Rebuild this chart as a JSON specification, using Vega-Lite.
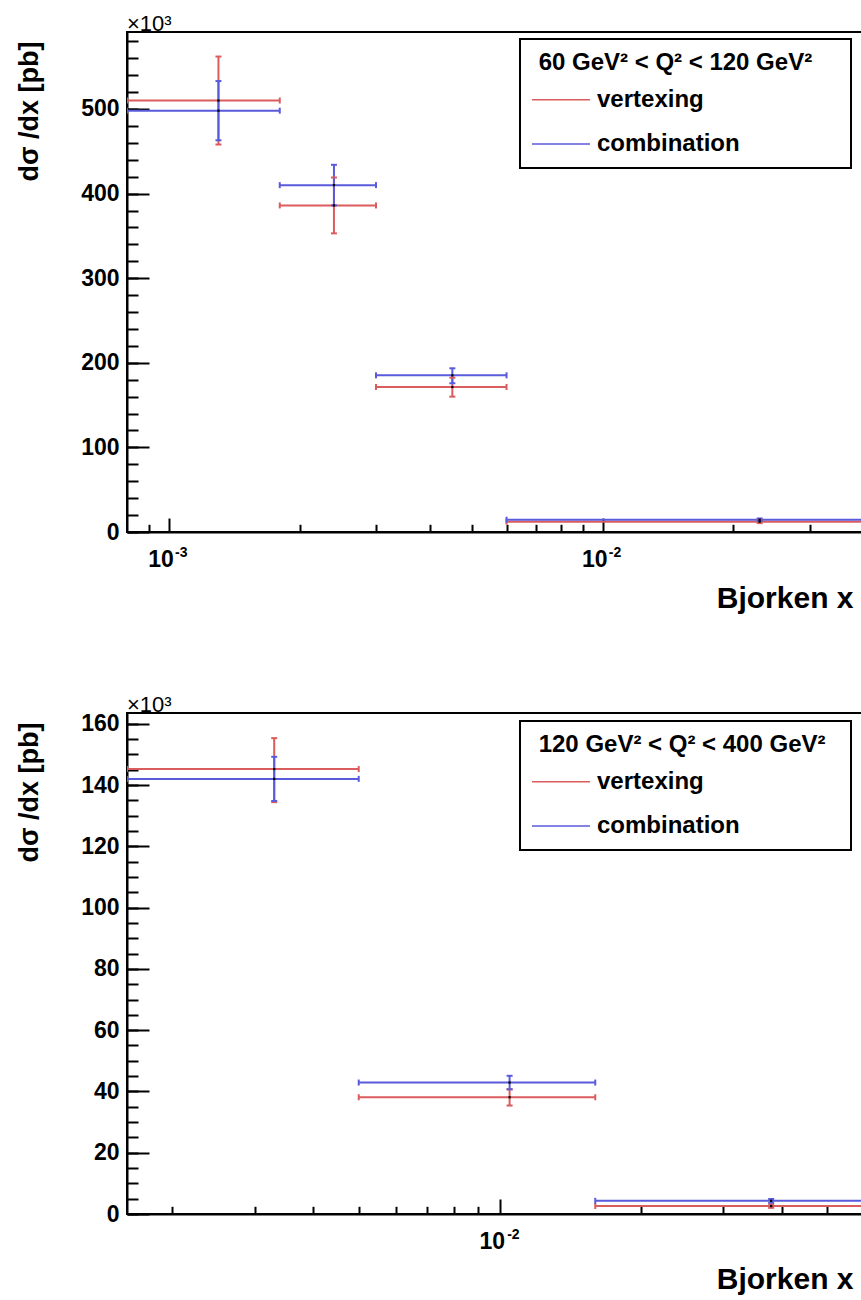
{
  "$schema": "https://vega.github.io/schema/vega-lite/v6.json",
  "background": "white",
  "padding": {"left": 14, "top": 12, "right": 0, "bottom": 0},
  "config": {
    "font": "Liberation Sans",
    "view": {"stroke": "black", "strokeWidth": 2},
    "axis": {"grid": false},
    "legend": {"strokeWidth": 2},
    "title": {"fontSize": 22, "fontWeight": "normal", "font": "Liberation Sans", "color": "black", "anchor": "start", "frame": "group", "baseline": "alphabetic", "offset": -4}
  },
  "spacing": 181,
  "bounds": "flush",
  "resolve": {"scale": {"color": "independent"}, "legend": {"color": "independent"}},
  "datasets": {
    "top": [
      {"series": "vertexing", "x": 0.0013, "xlo": 0.0008, "xhi": 0.0018, "y": 510, "ylo": 458, "yhi": 562},
      {"series": "vertexing", "x": 0.0024, "xlo": 0.0018, "xhi": 0.003, "y": 386, "ylo": 353, "yhi": 419},
      {"series": "vertexing", "x": 0.0045, "xlo": 0.003, "xhi": 0.006, "y": 171.4, "ylo": 160, "yhi": 182.4},
      {"series": "vertexing", "x": 0.023, "xlo": 0.006, "xhi": 0.1, "y": 12.2, "ylo": 10.5, "yhi": 14},
      {"series": "combination", "x": 0.0013, "xlo": 0.0008, "xhi": 0.0018, "y": 498, "ylo": 463, "yhi": 533},
      {"series": "combination", "x": 0.0024, "xlo": 0.0018, "xhi": 0.003, "y": 410, "ylo": 386, "yhi": 434},
      {"series": "combination", "x": 0.0045, "xlo": 0.003, "xhi": 0.006, "y": 185.2, "ylo": 175.8, "yhi": 193.5},
      {"series": "combination", "x": 0.023, "xlo": 0.006, "xhi": 0.1, "y": 14.5, "ylo": 13, "yhi": 16}
    ],
    "bottom": [
      {"series": "vertexing", "x": 0.0033, "xlo": 0.0016, "xhi": 0.005, "y": 145.2, "ylo": 134.4, "yhi": 155.3},
      {"series": "vertexing", "x": 0.0105, "xlo": 0.005, "xhi": 0.016, "y": 38.1, "ylo": 35.4, "yhi": 40.7},
      {"series": "vertexing", "x": 0.038, "xlo": 0.016, "xhi": 0.1, "y": 2.6, "ylo": 2.0, "yhi": 3.2},
      {"series": "combination", "x": 0.0033, "xlo": 0.0016, "xhi": 0.005, "y": 142, "ylo": 134.8, "yhi": 149.2},
      {"series": "combination", "x": 0.0105, "xlo": 0.005, "xhi": 0.016, "y": 42.9, "ylo": 40.7, "yhi": 45.1},
      {"series": "combination", "x": 0.038, "xlo": 0.016, "xhi": 0.1, "y": 4.3, "ylo": 3.7, "yhi": 4.9}
    ]
  },
  "vconcat": [
    {
      "width": 735, "height": 500,
      "data": {"name": "top"},
      "title": {"text": "×10³"},
      "encoding": {
        "color": {"field": "series", "type": "nominal",
          "scale": {"domain": ["vertexing", "combination"], "range": ["#db5c5c", "#5a5adc"]},
          "legend": {"title": "\u200b\u00a060 GeV² < Q² < 120 GeV²\u00a0\u00a0\u00a0\u00a0\u200b", "orient": "none", "legendX": 393, "legendY": 7, "direction": "vertical",
            "strokeColor": "black", "fillColor": "white", "padding": 12,
            "titleFont": "Liberation Sans", "titleFontSize": 24, "titleFontWeight": "bold", "titleColor": "black", "titlePadding": 12.7, "titleLimit": 500,
            "labelFont": "Liberation Sans", "labelFontSize": 24, "labelFontWeight": "bold", "labelColor": "black", "labelLimit": 400,
            "symbolType": "M-10,0H10", "symbolSize": 33.6, "symbolStrokeWidth": 1.5, "symbolOffset": 17, "labelOffset": 24, "rowPadding": 20.3}
        }
      },
      "resolve": {"axis": {"x": "independent", "y": "independent"}},
      "layer": [
        {
          "mark": {"type": "rule", "strokeWidth": 2, "clip": true},
          "encoding": {
            "x": {"field": "xlo", "type": "quantitative",
              "scale": {"type": "log", "domain": [0.0008, 0.0396], "nice": false},
              "axis": {"orient": "bottom", "values": [0.001, 0.01], "labelExpr": "'10'", "tickSize": -14, "tickWidth": 2, "tickColor": "black",
                "domain": true, "domainColor": "black", "domainWidth": 2,
                "labelFont": "Liberation Sans", "labelFontSize": 23, "labelFontWeight": "bold", "labelColor": "black",
                "labelAlign": "center", "labelBaseline": "alphabetic", "labelPadding": 48, "labelOffset": -8.5,
                "labelOverlap": false, "labelFlush": false, "labelBound": false,
                "title": "Bjorken x", "titleFont": "Liberation Sans", "titleFontSize": 30, "titleFontWeight": "bold", "titleColor": "black",
                "titleAlign": "right", "titleX": 726, "titleY": 75, "titleBaseline": "alphabetic", "grid": false}
            },
            "x2": {"field": "xhi"},
            "y": {"field": "y", "type": "quantitative",
              "scale": {"domain": [0, 591], "nice": false},
              "axis": {"orient": "left", "values": [0, 100, 200, 300, 400, 500], "tickSize": -22, "tickWidth": 2, "tickColor": "black",
                "domain": true, "domainColor": "black", "domainWidth": 2,
                "labelFont": "Liberation Sans", "labelFontSize": 23, "labelFontWeight": "bold", "labelColor": "black",
                "labelAlign": "right", "labelBaseline": "middle", "labelPadding": 30,
                "labelOverlap": false, "labelFlush": false, "labelBound": false,
                "title": "dσ /dx [pb]", "titleFont": "Liberation Sans", "titleFontSize": 27, "titleFontWeight": "bold", "titleColor": "black",
                "titleAngle": 270, "titleAlign": "right", "titleBaseline": "alphabetic", "titleX": -90, "titleY": 9, "grid": false}
            }
          }
        },
        {
          "mark": {"type": "rule", "strokeWidth": 2, "clip": true},
          "encoding": {
            "x": {"field": "x", "type": "quantitative",
              "axis": {"orient": "bottom", "values": [0.0009, 0.002, 0.003, 0.004, 0.005, 0.006, 0.007, 0.008, 0.009, 0.02, 0.03],
                "labels": false, "domain": false, "tickSize": -7.7, "tickWidth": 2, "tickColor": "black", "title": null, "grid": false}
            },
            "y": {"field": "ylo", "type": "quantitative",
              "axis": {"orient": "left", "values": [0, 20, 40, 60, 80, 100, 120, 140, 160, 180, 200, 220, 240, 260, 280, 300, 320, 340, 360, 380, 400, 420, 440, 460, 480, 500, 520, 540, 560, 580],
                "labels": false, "domain": false, "tickSize": -11, "tickWidth": 2, "tickColor": "black", "title": null, "grid": false}
            },
            "y2": {"field": "yhi"}
          }
        },
        {
          "transform": [{"fold": ["xlo", "xhi"], "as": ["end", "xe"]}],
          "mark": {"type": "tick", "orient": "vertical", "size": 6, "thickness": 2, "opacity": 1, "clip": true},
          "encoding": {
            "x": {"field": "xe", "type": "quantitative", "axis": null},
            "y": {"field": "y", "type": "quantitative", "axis": null}
          }
        },
        {
          "transform": [{"fold": ["ylo", "yhi"], "as": ["end", "ye"]}],
          "mark": {"type": "tick", "orient": "horizontal", "size": 6, "thickness": 2, "opacity": 1, "clip": true},
          "encoding": {
            "x": {"field": "x", "type": "quantitative", "axis": null},
            "y": {"field": "ye", "type": "quantitative", "axis": null}
          }
        },
        {
          "mark": {"type": "square", "size": 5, "opacity": 1, "clip": true},
          "encoding": {
            "x": {"field": "x", "type": "quantitative",
              "axis": {"orient": "bottom", "values": [0.001, 0.01], "labelExpr": "datum.value < 0.005 ? '-3' : '-2'",
                "ticks": false, "tickSize": 0, "domain": false,
                "labelFont": "Liberation Sans", "labelFontSize": 14, "labelFontWeight": "bold", "labelColor": "black",
                "labelAlign": "left", "labelBaseline": "alphabetic", "labelPadding": 24, "labelOffset": 5.5,
                "labelOverlap": false, "labelFlush": false, "labelBound": false, "title": null, "grid": false}
            },
            "y": {"field": "y", "type": "quantitative", "axis": null},
            "color": {"value": "black"}
          }
        }
      ]
    },
    {
      "width": 735, "height": 501,
      "data": {"name": "bottom"},
      "title": {"text": "×10³"},
      "encoding": {
        "color": {"field": "series", "type": "nominal",
          "scale": {"domain": ["vertexing", "combination"], "range": ["#db5c5c", "#5a5adc"]},
          "legend": {"title": "\u200b\u00a0120 GeV² < Q² < 400 GeV²\u00a0\u00a0\u200b", "orient": "none", "legendX": 393, "legendY": 8, "direction": "vertical",
            "strokeColor": "black", "fillColor": "white", "padding": 12,
            "titleFont": "Liberation Sans", "titleFontSize": 24, "titleFontWeight": "bold", "titleColor": "black", "titlePadding": 12.7, "titleLimit": 500,
            "labelFont": "Liberation Sans", "labelFontSize": 24, "labelFontWeight": "bold", "labelColor": "black", "labelLimit": 400,
            "symbolType": "M-10,0H10", "symbolSize": 33.6, "symbolStrokeWidth": 1.5, "symbolOffset": 17, "labelOffset": 24, "rowPadding": 20.3}
        }
      },
      "resolve": {"axis": {"x": "independent", "y": "independent"}},
      "layer": [
        {
          "mark": {"type": "rule", "strokeWidth": 2, "clip": true},
          "encoding": {
            "x": {"field": "xlo", "type": "quantitative",
              "scale": {"type": "log", "domain": [0.0016, 0.0594], "nice": false},
              "axis": {"orient": "bottom", "values": [0.01], "labelExpr": "'10'", "tickSize": -15, "tickWidth": 2, "tickColor": "black",
                "domain": true, "domainColor": "black", "domainWidth": 2,
                "labelFont": "Liberation Sans", "labelFontSize": 23, "labelFontWeight": "bold", "labelColor": "black",
                "labelAlign": "center", "labelBaseline": "alphabetic", "labelPadding": 49, "labelOffset": -8,
                "labelOverlap": false, "labelFlush": false, "labelBound": false,
                "title": "Bjorken x", "titleFont": "Liberation Sans", "titleFontSize": 30, "titleFontWeight": "bold", "titleColor": "black",
                "titleAlign": "right", "titleX": 726, "titleY": 74, "titleBaseline": "alphabetic", "grid": false}
            },
            "x2": {"field": "xhi"},
            "y": {"field": "y", "type": "quantitative",
              "scale": {"domain": [0, 163.5], "nice": false},
              "axis": {"orient": "left", "values": [0, 20, 40, 60, 80, 100, 120, 140, 160], "tickSize": -22, "tickWidth": 2, "tickColor": "black",
                "domain": true, "domainColor": "black", "domainWidth": 2,
                "labelFont": "Liberation Sans", "labelFontSize": 23, "labelFontWeight": "bold", "labelColor": "black",
                "labelAlign": "right", "labelBaseline": "middle", "labelPadding": 30,
                "labelOverlap": false, "labelFlush": false, "labelBound": false,
                "title": "dσ /dx [pb]", "titleFont": "Liberation Sans", "titleFontSize": 27, "titleFontWeight": "bold", "titleColor": "black",
                "titleAngle": 270, "titleAlign": "right", "titleBaseline": "alphabetic", "titleX": -90, "titleY": 9, "grid": false}
            }
          }
        },
        {
          "mark": {"type": "rule", "strokeWidth": 2, "clip": true},
          "encoding": {
            "x": {"field": "x", "type": "quantitative",
              "axis": {"orient": "bottom", "values": [0.002, 0.003, 0.004, 0.005, 0.006, 0.007, 0.008, 0.009, 0.02, 0.03, 0.04, 0.05],
                "labels": false, "domain": false, "tickSize": -7.7, "tickWidth": 2, "tickColor": "black", "title": null, "grid": false}
            },
            "y": {"field": "ylo", "type": "quantitative",
              "axis": {"orient": "left", "values": [0, 5, 10, 15, 20, 25, 30, 35, 40, 45, 50, 55, 60, 65, 70, 75, 80, 85, 90, 95, 100, 105, 110, 115, 120, 125, 130, 135, 140, 145, 150, 155, 160],
                "labels": false, "domain": false, "tickSize": -11, "tickWidth": 2, "tickColor": "black", "title": null, "grid": false}
            },
            "y2": {"field": "yhi"}
          }
        },
        {
          "transform": [{"fold": ["xlo", "xhi"], "as": ["end", "xe"]}],
          "mark": {"type": "tick", "orient": "vertical", "size": 6, "thickness": 2, "opacity": 1, "clip": true},
          "encoding": {
            "x": {"field": "xe", "type": "quantitative", "axis": null},
            "y": {"field": "y", "type": "quantitative", "axis": null}
          }
        },
        {
          "transform": [{"fold": ["ylo", "yhi"], "as": ["end", "ye"]}],
          "mark": {"type": "tick", "orient": "horizontal", "size": 6, "thickness": 2, "opacity": 1, "clip": true},
          "encoding": {
            "x": {"field": "x", "type": "quantitative", "axis": null},
            "y": {"field": "ye", "type": "quantitative", "axis": null}
          }
        },
        {
          "mark": {"type": "square", "size": 5, "opacity": 1, "clip": true},
          "encoding": {
            "x": {"field": "x", "type": "quantitative",
              "axis": {"orient": "bottom", "values": [0.01], "labelExpr": "'-2'",
                "ticks": false, "tickSize": 0, "domain": false,
                "labelFont": "Liberation Sans", "labelFontSize": 14, "labelFontWeight": "bold", "labelColor": "black",
                "labelAlign": "left", "labelBaseline": "alphabetic", "labelPadding": 24, "labelOffset": 7,
                "labelOverlap": false, "labelFlush": false, "labelBound": false, "title": null, "grid": false}
            },
            "y": {"field": "y", "type": "quantitative", "axis": null},
            "color": {"value": "black"}
          }
        }
      ]
    }
  ]
}
